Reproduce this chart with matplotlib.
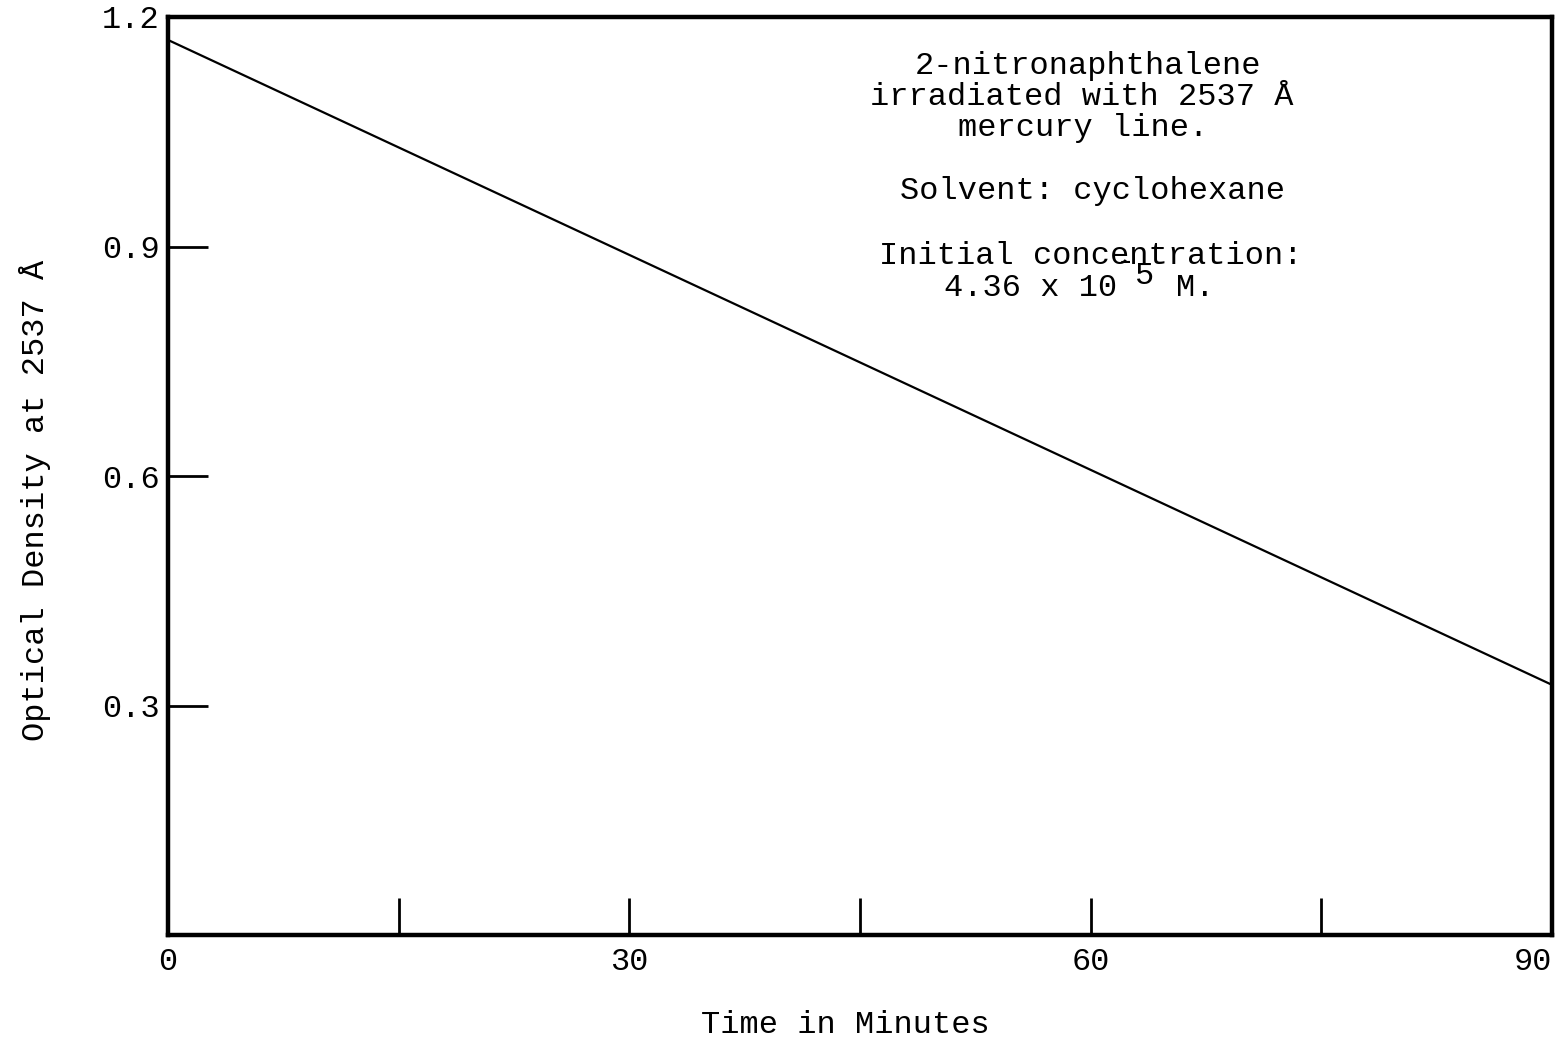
import matplotlib.pyplot as plt

# data
time_min = [0, 90]
optical_density = [1.17, 0.327]

x_ticks = [0, 15, 30, 45, 60, 75, 90]
x_labels = ['0', '', '30', '', '60', '', '90']
y_ticks = [0.3, 0.6, 0.9, 1.2]
y_labels = ['0.3', '0.6', '0.9', '1.2']

mono = ['Liberation Mono', 'DejaVu Sans Mono']
plt.rcParams['font.family'] = mono
FS = 23
W, H = 1564, 1040

fig = plt.figure(figsize=(W / 100, H / 100), dpi=100)
ax = fig.add_axes([168 / W, 1 - 935 / H, (1552 - 168) / W, (935 - 17) / H])

ax.plot(time_min, optical_density, color='black', linewidth=1.6)

ax.set_xlim(0, 90)
ax.set_ylim(0, 1.2)
for side in ['left', 'right', 'top', 'bottom']:
    ax.spines[side].set_linewidth(3.2)

ax.set_xticks(x_ticks)
ax.set_xticklabels(x_labels)
ax.set_yticks(y_ticks)
ax.set_yticklabels(y_labels)
ax.tick_params(axis='x', direction='in', length=27, width=2, pad=9, labelsize=FS)
ax.tick_params(axis='y', direction='in', length=29, width=2, pad=6, labelsize=FS)
# no tick marks at the ends of the axes
for t in ax.xaxis.get_major_ticks()[0::6]:
    t.tick1line.set_visible(False)
ax.yaxis.get_major_ticks()[-1].tick1line.set_visible(False)
ax.get_xticklabels()[-1].set_ha('right')


def ftext(px, py, s, **kw):
    fig.text(px / W, 1 - py / H, s, fontsize=FS, **kw)


ftext(845, 1025, 'Time in Minutes', ha='center', va='center')
ftext(35, 500, 'Optical Density at 2537 Å', rotation=90, ha='center', va='center')

ftext(1088, 66, '2-nitronaphthalene', ha='center', va='center')
ftext(1082, 97, 'irradiated with 2537 Å', ha='center', va='center')
ftext(1083, 128, 'mercury line.', ha='center', va='center')
ftext(1092, 191, 'Solvent: cyclohexane', ha='center', va='center')
ftext(1091, 256, 'Initial concentration:', ha='center', va='center')
# exponent typed raised, as on the original
ftext(1117, 288, '4.36 x 10', ha='right', va='center')
ftext(1125, 262, '-', ha='center', va='center')
ftext(1145, 276, '5', ha='center', va='center')
ftext(1176, 288, 'M.', ha='left', va='center')

fig.savefig('out.png', dpi=100)
